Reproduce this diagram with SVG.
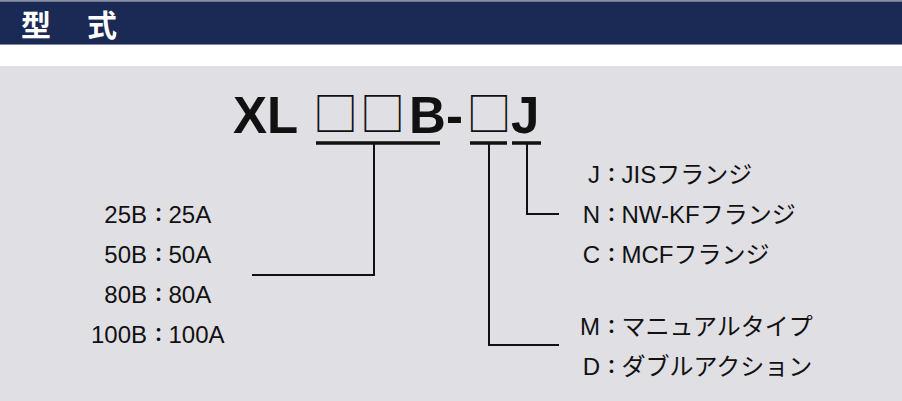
<svg xmlns="http://www.w3.org/2000/svg" width="902" height="401" viewBox="0 0 902 401">
<style>
.t{font-family:"Liberation Sans","Noto Sans CJK JP",sans-serif;font-size:24px;fill:#111}
.k{font-family:"Noto Sans CJK JP",sans-serif;font-size:19px;font-weight:bold;fill:#111}
.ti{font-family:"Liberation Sans",Arial,sans-serif;font-weight:bold;font-size:51px;fill:#111}
.sq{font-family:"Noto Sans CJK JP",sans-serif;font-size:45px;fill:#111}
.ln{stroke:#111;stroke-width:2;fill:none}
.ul{stroke:#111;stroke-width:3.5;fill:none}
</style>
<rect x="0" y="0" width="902" height="401" fill="#ffffff"/>
<rect x="0" y="0" width="902" height="1.5" fill="#8a8fa3"/>
<rect x="0" y="1.5" width="902" height="43" fill="#1b2a55"/>
<rect x="0" y="44" width="902" height="1" fill="#7e869e"/>
<rect x="0" y="66" width="902" height="335" fill="#e0dfe4"/>
<g id="header">
<text x="21" y="36" style="font-family:'Noto Sans CJK JP',sans-serif;font-weight:bold;font-size:30px;fill:#fff">型</text>
<text x="87" y="36" style="font-family:'Noto Sans CJK JP',sans-serif;font-weight:bold;font-size:30px;fill:#fff">式</text>
</g>
<g id="model">
<text class="ti" x="233" y="133">XL</text>
<text class="sq" x="335.5" y="131" text-anchor="middle">□</text>
<text class="sq" x="382.5" y="131" text-anchor="middle">□</text>
<text class="ti" x="409" y="133">B</text>
<text class="ti" x="446" y="133">-</text>
<text class="sq" x="489" y="131" text-anchor="middle">□</text>
<text class="ti" x="511" y="133">J</text>
</g>
<g id="connectors">
<line class="ul" x1="316" y1="143" x2="440" y2="143"/>
<line class="ul" x1="470" y1="143" x2="507" y2="143"/>
<line class="ul" x1="512" y1="143" x2="541" y2="143"/>
<polyline class="ln" points="374,143 374,275 252,275"/>
<polyline class="ln" points="489,143 489,345 559,345"/>
<polyline class="ln" points="527,143 527,214 559,214"/>
</g>
<g id="size-options">
<text class="t" x="147" y="223" text-anchor="end">25B</text><text class="k" x="158.5" y="222" text-anchor="middle">：</text><text class="t" x="168.5" y="223">25A</text>
<text class="t" x="147" y="263" text-anchor="end">50B</text><text class="k" x="158.5" y="262" text-anchor="middle">：</text><text class="t" x="168.5" y="263">50A</text>
<text class="t" x="147" y="303" text-anchor="end">80B</text><text class="k" x="158.5" y="302" text-anchor="middle">：</text><text class="t" x="168.5" y="303">80A</text>
<text class="t" x="147" y="343" text-anchor="end">100B</text><text class="k" x="158.5" y="342" text-anchor="middle">：</text><text class="t" x="168.5" y="343">100A</text>
</g>
<g id="flange-options">
<text class="t" x="600" y="183" text-anchor="end">J</text><text class="k" x="611.5" y="182" text-anchor="middle">：</text><text class="t" x="621.5" y="183">JISフランジ</text>
<text class="t" x="600" y="223" text-anchor="end">N</text><text class="k" x="611.5" y="222" text-anchor="middle">：</text><text class="t" x="621.5" y="223">NW-KFフランジ</text>
<text class="t" x="600" y="263" text-anchor="end">C</text><text class="k" x="611.5" y="262" text-anchor="middle">：</text><text class="t" x="621.5" y="263">MCFフランジ</text>
</g>
<g id="type-options">
<text class="t" x="600" y="335" text-anchor="end">M</text><text class="k" x="611.5" y="334" text-anchor="middle">：</text><text class="t" x="621.5" y="335">マニュアルタイプ</text>
<text class="t" x="600" y="375" text-anchor="end">D</text><text class="k" x="611.5" y="374" text-anchor="middle">：</text><text class="t" x="621.5" y="375">ダブルアクション</text>
</g>
</svg>
